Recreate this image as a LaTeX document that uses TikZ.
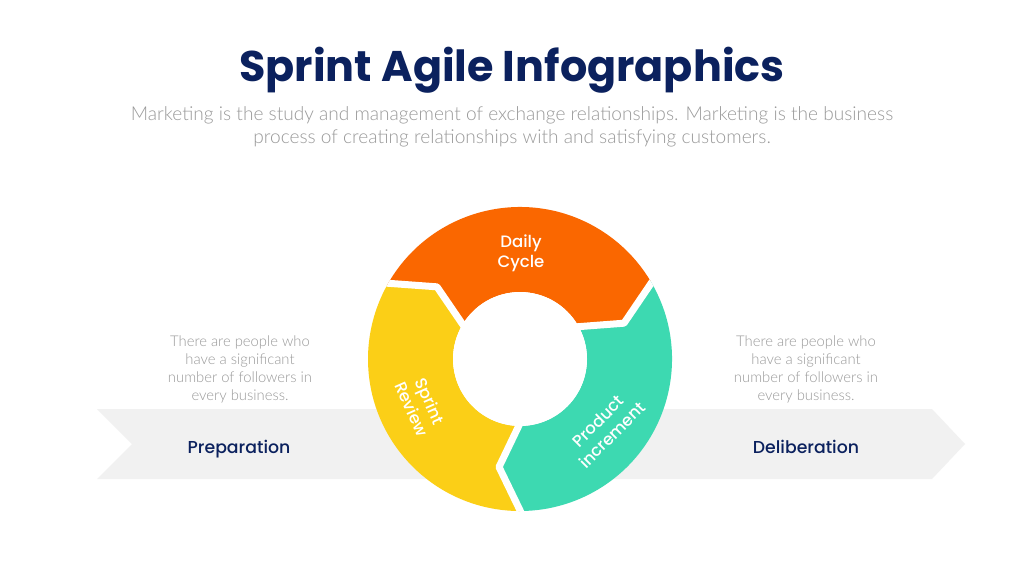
\documentclass[tikz,border=0pt]{standalone}
\usepackage{fontspec}
\setmainfont{Lato}
\newfontfamily\pop{Poppins}
\newfontfamily\popmed{Poppins Medium}
\newfontfamily\latolight{Lato Light}
\definecolor{navy}{HTML}{0B215E}
\definecolor{txtgrey}{HTML}{999999}
\definecolor{band}{HTML}{F1F1F1}
\definecolor{segorange}{HTML}{FA6700}
\definecolor{segyellow}{HTML}{FBCF17}
\definecolor{seggreen}{HTML}{3DD9B1}
\begin{document}
\begin{tikzpicture}[x=1pt,y=1pt,
  bodytext/.style={align=center,text=txtgrey,font=\latolight\fontsize{14.8}{18}\selectfont},
  phase/.style={anchor=base,text=navy,font=\popmed\fontsize{17.3}{20}\selectfont},
  seglabel/.style={align=center,text=white,font=\popmed\fontsize{16.5}{20}\selectfont},
  gapline/.style={white,line width=7pt,line join=round}]
\useasboundingbox (0,0) rectangle (1024,-576);
\fill[white] (0,0) rectangle (1024,-576);
% title and subtitle
\node[text=navy,font=\pop\bfseries\fontsize{42.9}{50}\selectfont] (title) at (512,-70) {Sprint Agile Infographics};
\node[align=center,text=txtgrey,font=\latolight\fontsize{19.1}{23}\selectfont] (sub) at (512,-127)
  {Marketing is the study and management of exchange relationships. Marketing is the business\\process of creating relationships with and satisfying customers.};
% band
\fill[band] (97,-409) -- (932,-409) -- (965,-444) -- (932,-479) -- (97,-479) -- (132,-444) -- cycle;
\node[phase] (prep) at (239,-453) {Preparation};
\node[phase] (delib) at (806,-453) {Deliberation};
\node[bodytext] (ltext) at (240,-369) {There are people who\\have a significant\\number of followers in\\every business.};
\node[bodytext] (rtext) at (806,-369) {There are people who\\have a significant\\number of followers in\\every business.};
% cycle
\begin{scope}[shift={(520,-359)}]
\def\R{152}\def\r{67}\def\m{110}
\fill[segorange] (151:\R) arc[start angle=151,end angle=31,radius=\R] -- (19:\m) -- (31:\r)
   arc[start angle=31,end angle=151,radius=\r] -- (139:\m) -- cycle;
\fill[seggreen] (31:\R) arc[start angle=31,end angle=-89,radius=\R] -- (-101:\m) -- (-89:\r)
   arc[start angle=-89,end angle=31,radius=\r] -- (19:\m) -- cycle;
\fill[segyellow] (-89:\R) arc[start angle=-89,end angle=-209,radius=\R] -- (-221:\m) -- (-209:\r)
   arc[start angle=-209,end angle=-89,radius=\r] -- (-101:\m) -- cycle;
\begin{scope}
\clip (0,0) circle[radius=\R];
\draw[gapline] (151:\R+5) -- (139:\m) -- (151:\r-5);
\draw[gapline] (31:\R+5) -- (19:\m) -- (31:\r-5);
\draw[gapline] (-89:\R+5) -- (-101:\m) -- (-89:\r-5);
\end{scope}
\fill[white] (0,0) circle[radius=\r];
\end{scope}
\node[seglabel] (daily) at (521,-253) {Daily\\Cycle};
\node[seglabel,rotate=-66] (sprint) at (421,-405) {Sprint\\Review};
\node[seglabel,rotate=45] (product) at (605,-428) {Product\\increment};
\end{tikzpicture}
\end{document}
